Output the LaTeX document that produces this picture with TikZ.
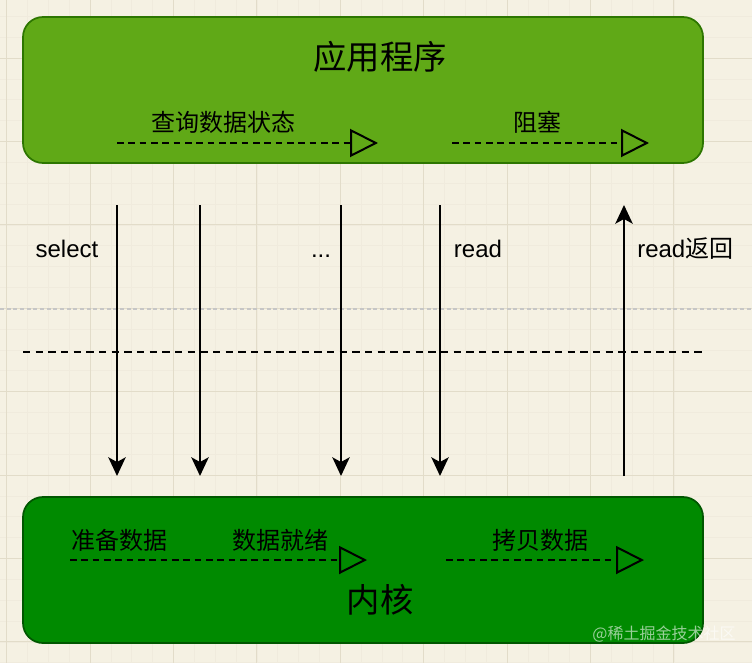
\documentclass[tikz,border=0pt]{standalone}
\usepackage{fontspec}
\setmainfont{Liberation Sans}
\newfontfamily\cjk{Noto Sans CJK SC}
\usetikzlibrary{arrows.meta}
\definecolor{bgc}{HTML}{F5F1E3}
\definecolor{gmaj}{HTML}{E2DCC9}
\definecolor{gmin}{HTML}{F0EBDD}
\definecolor{appfill}{HTML}{60A917}
\definecolor{appdraw}{HTML}{2D7600}
\definecolor{kfill}{HTML}{008A00}
\definecolor{kdraw}{HTML}{005700}
\begin{document}
\begin{tikzpicture}[x=0.75pt,y=-0.75pt,
  panel/.style={rounded corners=15pt, line width=1.3pt, minimum width=510pt, minimum height=109.5pt, inner sep=0pt},
  title/.style={font=\cjk\fontsize{25}{28}\selectfont, inner sep=0pt},
  lbl/.style={font=\cjk\fontsize{18}{20}\selectfont, inner sep=0pt},
  latin/.style={font=\fontsize{18}{20}\selectfont, inner sep=0pt, anchor=base},
  flowarrow/.style={line width=1.35pt, dash pattern=on 5pt off 3.5pt, -{Triangle[open,length=21pt,width=21pt,line width=1.5pt]}},
  varrow/.style={line width=1.7pt, -{Stealth[length=14pt,width=13pt,inset=3.5pt]}},
  sep/.style={line width=1.4pt, dash pattern=on 5.5pt off 4pt}]
% background and grid
\fill[bgc] (0,0) rectangle (752,663);
\useasboundingbox (0,0) rectangle (752,663);
\foreach \i in {0,...,36} {
  \draw[gmin, line width=0.4pt] ({6.6+20.85*\i-83.4},0) -- ({6.6+20.85*\i-83.4},663);
  \draw[gmin, line width=0.4pt] (0,{58+20.85*\i-83.4}) -- (752,{58+20.85*\i-83.4});
}
\foreach \i in {0,...,9} {
  \draw[gmaj, line width=0.6pt] ({6.6+83.4*\i},0) -- ({6.6+83.4*\i},663);
  \draw[gmaj, line width=0.6pt] (0,{58+83.4*(\i-1)}) -- (752,{58+83.4*(\i-1)});
}
\draw[gray!45, line width=0.8pt, dash pattern=on 3pt off 2pt] (0,309) -- (752,309);

% panels
\node[panel, fill=appfill, draw=appdraw] (app) at (363,90) {};
\node[panel, fill=kfill, draw=kdraw] (kern) at (363,570) {};
\node[title] (apptitle) at (380,57) {应用程序};
\node[title] (kerntitle) at (380,600) {内核};

% top labels and flow arrows
\node[lbl] (q) at (223,122) {查询数据状态};
\node[lbl] (blk) at (537,122) {阻塞};
\coordinate (t1s) at (117,143); \coordinate (t1e) at (378,143);
\coordinate (t2s) at (452,143); \coordinate (t2e) at (649,143);
\draw[flowarrow] (t1s) -- (t1e);
\draw[flowarrow] (t2s) -- (t2e);

% bottom labels and flow arrows
\node[lbl] (prep) at (119,540) {准备数据};
\node[lbl] (ready) at (280,540) {数据就绪};
\node[lbl] (copy) at (540,540) {拷贝数据};
\coordinate (b1s) at (70,560); \coordinate (b1e) at (367,560);
\coordinate (b2s) at (446,560); \coordinate (b2e) at (644,560);
\draw[flowarrow] (b1s) -- (b1e);
\draw[flowarrow] (b2s) -- (b2e);

% separator
\coordinate (sl) at (23,352); \coordinate (sr) at (703,352);
\draw[sep] (sl) -- (sr);

% vertical arrows
\coordinate (v1s) at (117,205); \coordinate (v1e) at (117,476);
\coordinate (v2s) at (200,205); \coordinate (v2e) at (200,476);
\coordinate (v3s) at (341,205); \coordinate (v3e) at (341,476);
\coordinate (v4s) at (440,205); \coordinate (v4e) at (440,476);
\coordinate (v5s) at (624,476); \coordinate (v5e) at (624,205);
\draw[varrow] (v1s) -- (v1e);
\draw[varrow] (v2s) -- (v2e);
\draw[varrow] (v3s) -- (v3e);
\draw[varrow] (v4s) -- (v4e);
\draw[varrow] (v5s) -- (v5e);

% call labels
\node[latin] (sel) at (67,257) {select};
\node[latin] (dots) at (321,257) {...};
\node[latin] (rd) at (478,257) {read};
\node[latin, anchor=base west] (rdret) at (637,257) {read{\cjk 返回}};

% watermark
\node[font=\cjk\fontsize{12}{14}\selectfont, text=white, opacity=0.6, inner sep=0pt] (wm) at (664,634) {@稀土掘金技术社区};
\end{tikzpicture}
\end{document}
